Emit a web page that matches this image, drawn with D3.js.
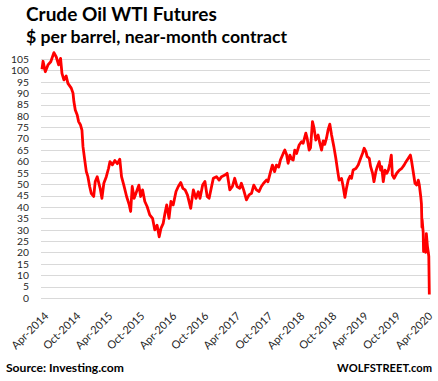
<!DOCTYPE html>
<html>
<head>
<meta charset="utf-8">
<script src="https://cdn.jsdelivr.net/npm/d3@7"></script>
<style>
  html, body { margin: 0; padding: 0; background: #fff; }
  svg { display: block; }
</style>
</head>
<body>
<svg id="chart" width="438" height="381"></svg>
<script>
// ---- data ----
const dates = [
"2014-04-01","2014-04-07","2014-04-20","2014-05-05","2014-05-21","2014-06-08","2014-06-21","2014-07-05","2014-07-16","2014-07-24",
"2014-08-04","2014-08-17","2014-08-27","2014-09-15","2014-09-25","2014-09-30","2014-10-08","2014-10-19","2014-10-27","2014-11-07",
"2014-11-15","2014-11-21","2014-12-01","2014-12-10","2014-12-19","2014-12-29","2015-01-07","2015-01-21","2015-01-30","2015-02-10",
"2015-02-27","2015-03-09","2015-03-20","2015-04-03","2015-04-16","2015-04-24","2015-05-08","2015-05-22","2015-06-05","2015-06-19",
"2015-06-29","2015-07-12","2015-07-28","2015-08-12","2015-08-20","2015-08-29","2015-09-09","2015-09-23","2015-10-06","2015-10-16",
"2015-10-27","2015-11-09","2015-11-22","2015-12-07","2015-12-23","2016-01-05","2016-01-18","2016-01-30","2016-02-09","2016-02-22",
"2016-03-03","2016-03-13","2016-03-26","2016-04-06","2016-04-19","2016-05-05","2016-05-18","2016-06-01","2016-06-13","2016-06-26",
"2016-07-09","2016-07-14","2016-07-28","2016-08-12","2016-08-27","2016-09-09","2016-09-19","2016-10-04","2016-10-17","2016-10-30",
"2016-11-10","2016-11-24","2016-12-04","2016-12-22","2017-01-06","2017-01-20","2017-02-08","2017-02-21","2017-03-08","2017-03-23",
"2017-04-05","2017-04-18","2017-05-04","2017-05-13","2017-05-26","2017-06-11","2017-06-26","2017-07-10","2017-07-23","2017-08-07",
"2017-08-22","2017-09-04","2017-09-17","2017-10-03","2017-10-12","2017-10-25","2017-11-06","2017-11-19","2017-11-29","2017-12-12",
"2017-12-22","2018-01-07","2018-01-16","2018-01-26","2018-02-04","2018-02-14","2018-02-24","2018-03-05","2018-03-14","2018-03-24",
"2018-04-08","2018-04-22","2018-05-01","2018-05-16","2018-05-24","2018-06-04","2018-06-12","2018-06-23","2018-07-01","2018-07-12",
"2018-07-25","2018-08-04","2018-08-14","2018-08-23","2018-09-01","2018-09-11","2018-09-20","2018-09-30","2018-10-10","2018-10-23",
"2018-11-03","2018-11-13","2018-11-22","2018-12-06","2018-12-15","2018-12-25","2019-01-03","2019-01-13","2019-01-23","2019-02-01",
"2019-02-10","2019-02-26","2019-03-11","2019-03-25","2019-04-05","2019-04-14","2019-04-24","2019-05-01","2019-05-13","2019-05-21",
"2019-06-01","2019-06-09","2019-06-20","2019-06-28","2019-07-09","2019-07-17","2019-07-23","2019-08-01","2019-08-11","2019-08-21",
"2019-08-30","2019-09-08","2019-09-16","2019-09-22","2019-10-02","2019-10-17","2019-11-01","2019-11-15","2019-11-28","2019-12-09",
"2019-12-22","2020-01-03","2020-01-10","2020-01-19","2020-01-29","2020-02-08","2020-02-17","2020-02-23","2020-03-02","2020-03-06",
"2020-03-09","2020-03-10","2020-03-16","2020-03-18","2020-03-19","2020-03-27","2020-03-30","2020-04-03","2020-04-09","2020-04-14",
"2020-04-17","2020-04-20"
];
const prices = [
100.5,104,99.4,102.4,103.8,107.8,106,102.4,105.3,98.7,
95.8,97.5,94.3,92.2,90,86.3,82.6,80.4,77.5,76,
73.8,66.5,60.6,55.5,53.3,49,46,44.6,51.2,53.3,
48.2,43.8,50.4,53.3,57,59.9,58.5,60.4,59,61,
53.3,49.6,44.6,40.9,38,49,43.8,46.8,49.6,44.6,
47.5,42.4,40.2,36.5,35,29.9,32,26.9,30.6,32.8,
37.2,40.9,35,42.4,40.9,46.8,49,50.7,48.2,47.5,
45.3,43.8,39.4,47.5,43.8,46.7,43.8,49.6,51.2,44.6,
43.8,49,52.6,53.3,51.8,53.3,54,54.8,47.5,49,
52.6,49,48.2,50.4,47.5,43.1,45.3,46,49.6,47.5,
46.8,49,50.4,51.8,51.1,55,58.4,55.5,58.4,57.5,
60.6,63.5,65,63,59.2,62.8,61,60.6,65,63.5,
67.2,68.7,68,72.4,70,65,66,77.5,75,69.4,
71.6,68,65,69,67.5,70.2,73.8,76.4,71.6,66.5,
61.5,56.2,51.8,52.5,49,44.2,48.2,51.8,53.5,52.6,
56.2,56.9,58.4,61.4,63.6,65.8,64.3,62.1,61.4,57.7,
54.8,51.1,55.6,57.7,59.9,56.2,57.7,51.1,56.2,54.8,
56.2,59.2,62.8,54,52.6,54.8,56.2,57,58.4,59.9,
61.4,62.8,60,55.5,50.4,49.6,51.8,49.6,44.6,41.3,
31.1,34.4,28.7,20.4,25.2,21.5,20.1,28.3,22.8,20.1,
18.3,1.5
];
const yTicks = [0,5,10,15,20,25,30,35,40,45,50,55,60,65,70,75,80,85,90,95,100,105];
const xTickLabels = ["Apr-2014","Oct-2014","Apr-2015","Oct-2015","Apr-2016","Oct-2016",
                     "Apr-2017","Oct-2017","Apr-2018","Oct-2018","Apr-2019","Oct-2019","Apr-2020"];
const titleText = "Crude Oil WTI Futures";
const subtitleText = "$ per barrel, near-month contract";
const sourceText = "Source: Investing.com";
const brandText = "WOLFSTREET.com";

// ---- drawing ----
const svg = d3.select("#chart");
const parse = d3.timeParse("%Y-%m-%d");
const fmtLabel = d3.timeParse("%b-%Y");
const data = dates.map((d, i) => ({ date: parse(d), value: prices[i] }));

const x = d3.scaleTime()
  .domain([parse("2014-04-01"), parse("2020-04-01")])
  .range([42, 426]);
const y = d3.scaleLinear().domain([0, 105]).range([298, 59]);

const gridLeft = 41, gridRight = 430;
const labelFont = "Lato, 'Open Sans', sans-serif";

// gridlines
svg.append("g").selectAll("line").data(yTicks).join("line")
  .attr("x1", gridLeft).attr("x2", gridRight)
  .attr("y1", d => Math.round(y(d)) + 0.5).attr("y2", d => Math.round(y(d)) + 0.5)
  .attr("stroke", "#d9d9d9").attr("stroke-width", 1);

// y axis labels
const yAxis = d3.axisLeft(y).tickValues(yTicks).tickSize(0).tickPadding(0);
const gy = svg.append("g").attr("transform", "translate(29,0)").call(yAxis);
gy.select(".domain").remove();
gy.selectAll("text").attr("font-family", labelFont).attr("font-size", 10.3).attr("fill", "#262626");

// x axis labels
const xAxis = d3.axisBottom(x)
  .tickValues(xTickLabels.map(s => fmtLabel(s)))
  .tickFormat(d3.timeFormat("%b-%Y"))
  .tickSize(0).tickPadding(0);
const gx = svg.append("g").attr("transform", "translate(0,300)").call(xAxis);
gx.select(".domain").remove();
gx.selectAll("text")
  .attr("font-family", labelFont).attr("font-size", 11).attr("fill", "#262626")
  .attr("text-anchor", "end")
  .attr("dy", null).attr("y", null)
  .attr("transform", "translate(4,14) rotate(-45)")
  .attr("dy", "0.35em");

// price line
const line = d3.line().x(d => x(d.date)).y(d => y(d.value));
svg.append("path").datum(data)
  .attr("d", line)
  .attr("fill", "none")
  .attr("stroke", "#ff0000")
  .attr("stroke-width", 2.8)
  .attr("stroke-linejoin", "round")
  .attr("stroke-linecap", "butt");

// texts fitted to widths
function fitText(sel, target) {
  const w = sel.node().getComputedTextLength();
  const fs = parseFloat(sel.attr("font-size"));
  sel.attr("font-size", (fs * target / w).toFixed(2));
}
const headFont = "Lato, 'Open Sans', sans-serif";
const t1 = svg.append("text").attr("x", 26).attr("y", 20.5)
  .attr("font-family", headFont).attr("font-weight", "bold").attr("font-size", 18)
  .attr("fill", "#000").text(titleText);
fitText(t1, 191);
const t2 = svg.append("text").attr("x", 26).attr("y", 43)
  .attr("font-family", headFont).attr("font-weight", "bold").attr("font-size", 18)
  .attr("fill", "#000").text(subtitleText);
fitText(t2, 261);
const s1 = svg.append("text").attr("x", 6).attr("y", 372)
  .attr("font-family", headFont).attr("font-weight", "bold").attr("font-size", 12)
  .attr("fill", "#000").text(sourceText);
fitText(s1, 118);
const s2 = svg.append("text").attr("x", 432).attr("y", 372).attr("text-anchor", "end")
  .attr("font-family", headFont).attr("font-weight", "bold").attr("font-size", 12)
  .attr("fill", "#000").text(brandText);
fitText(s2, 95);
</script>
</body>
</html>
